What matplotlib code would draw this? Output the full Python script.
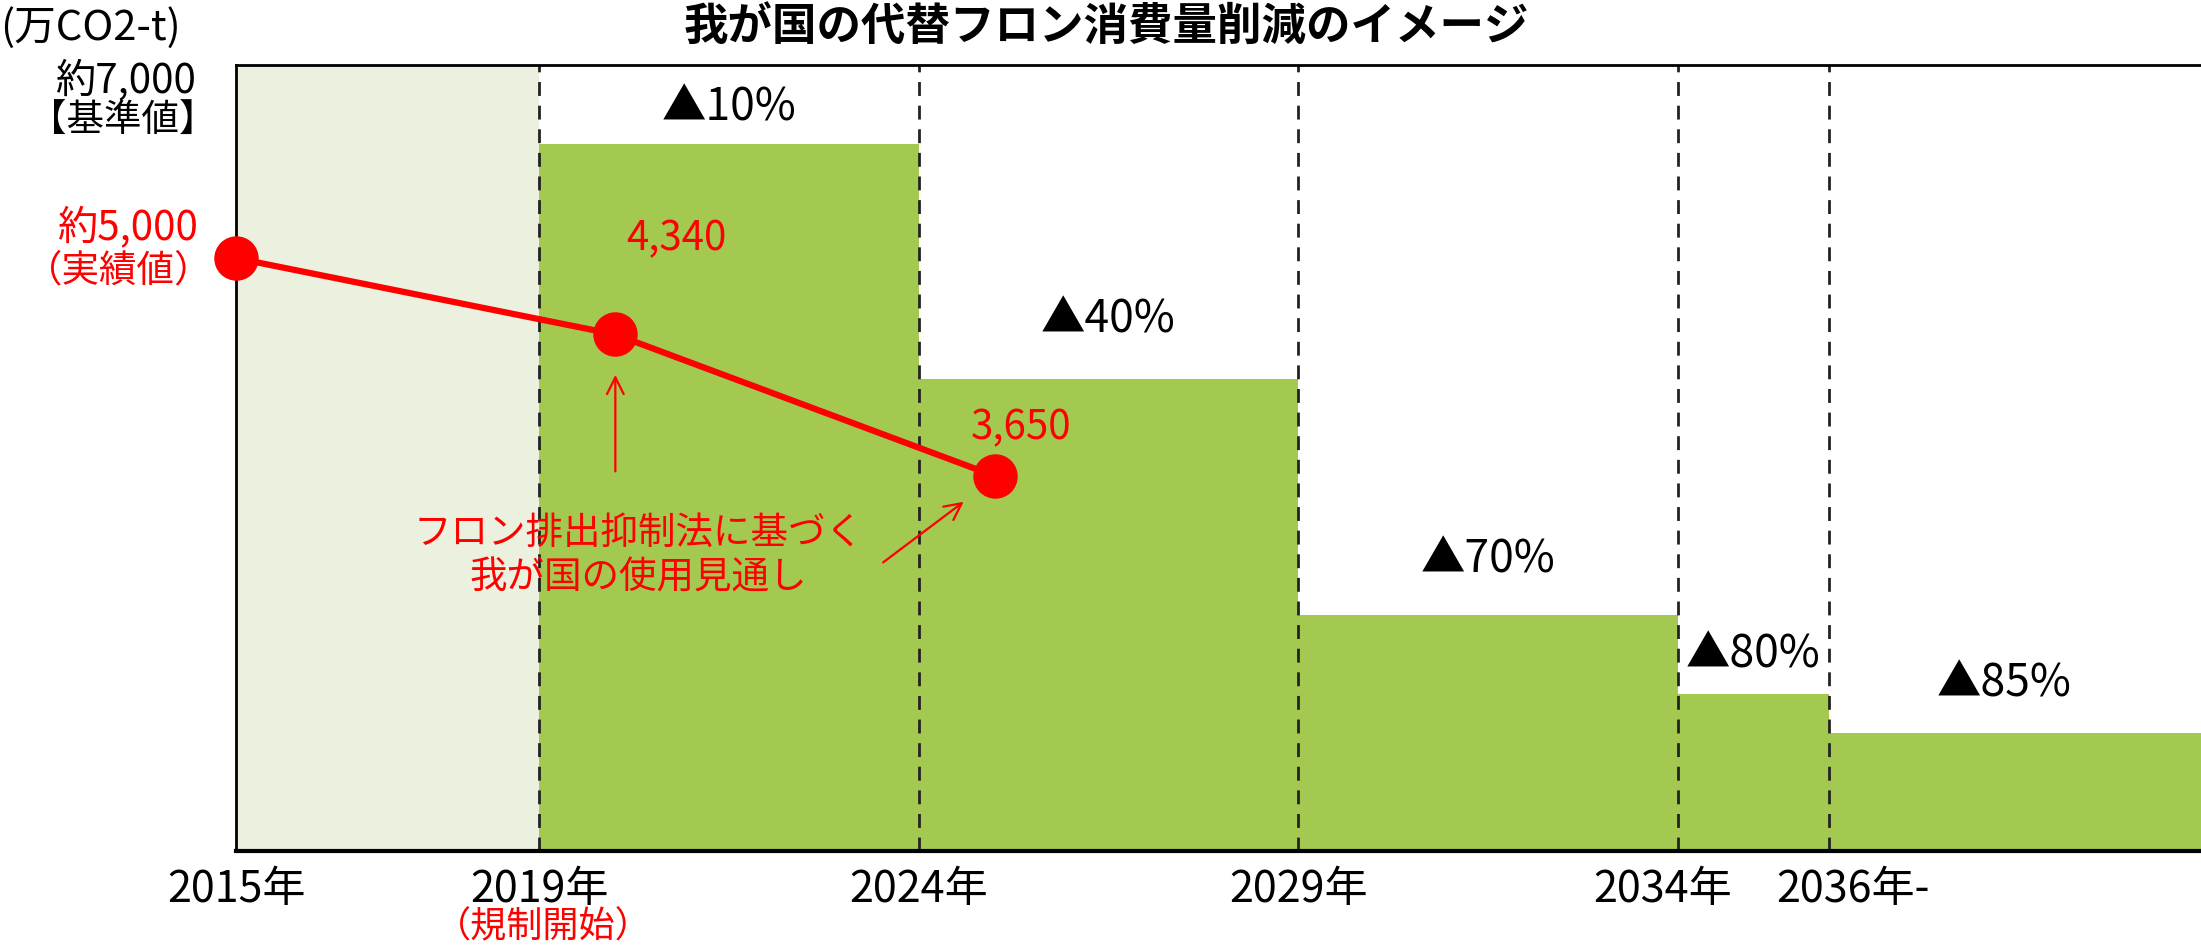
import matplotlib
matplotlib.use('Agg')
import matplotlib.pyplot as plt
import matplotlib.transforms as mtransforms

plt.rcParams['font.family'] = ['Noto Sans CJK JP', 'DejaVu Sans']

# step periods (start year, end year) and reduction from the 7,000 baseline
baseline = 7000
period_start = [2019, 2024, 2029, 2034, 2036]
period_end = [2024, 2029, 2034, 2036, 2041]
reduction_pct = [10, 40, 70, 80, 85]
pct_labels = ['▲10%', '▲40%', '▲70%', '▲80%', '▲85%']
pct_label_x = [2021.5, 2026.5, 2031.5, 2035.0, 2038.3]
pct_label_y = [6620, 4730, 2600, 1750, 1490]

# red line: usage outlook (drawn where the picture puts it)
line_years = [2015, 2020, 2025]
line_pos = [5280, 4600, 3340]
line_labels = ['4,340', '3,650']

tick_years = [2015, 2019, 2024, 2029, 2034, 2036]
tick_labels = ['2015年', '2019年', '2024年', '2029年', '2034年', '2036年-']

green = '#A3C951'
light_green = '#EBF1DE'
red = '#FF0000'

W, H = 2201, 947
fig = plt.figure(figsize=(W / 100, H / 100), dpi=100)
ax = fig.add_axes([236 / W, 1 - 851 / H, 1 - 236 / W, (851 - 65) / H])

# pre-regulation period
ax.axvspan(2015, 2019, color=light_green, zorder=0, lw=0)

heights = [baseline * (100 - p) / 100 for p in reduction_pct]
widths = [e - s for s, e in zip(period_start, period_end)]
ax.bar(period_start, heights, width=widths, align='edge', color=green, lw=0, zorder=1)

for x in period_start:
    ax.axvline(x, color='#222222', ls=(0, (5, 3.5)), lw=2, zorder=2)

for x, y, t in zip(pct_label_x, pct_label_y, pct_labels):
    ax.text(x, y, t, ha='center', va='center', fontsize=32, color='black', zorder=5)

ax.plot(line_years, line_pos, color=red, lw=4.5, marker='o', markersize=31,
        clip_on=False, zorder=4)

ax.text(2020.8, 5450, line_labels[0], ha='center', va='center', fontsize=29, color=red, zorder=5)
ax.text(2025.35, 3770, line_labels[1], ha='center', va='center', fontsize=29, color=red, zorder=5)

# annotation + arrows
ax.text(2020.3, 2630, 'フロン排出抑制法に基づく\n我が国の使用見通し', ha='center', va='center',
        fontsize=27, color=red, linespacing=1.2, zorder=5)
ax.annotate('', xy=(2020, 4265), xytext=(2020, 3356),
            arrowprops=dict(arrowstyle='->', color=red, lw=1.6, mutation_scale=30), zorder=5)
ax.annotate('', xy=(2024.62, 3125), xytext=(2023.5, 2555),
            arrowprops=dict(arrowstyle='->', color=red, lw=1.6, mutation_scale=30), zorder=5)

ax.set_xlim(2015, 2040.9)
ax.set_ylim(0, baseline)
ax.set_yticks([])
ax.set_xticks(tick_years)
ax.set_xticklabels(tick_labels, fontsize=31)
ax.tick_params(axis='x', length=0, pad=12)
# nudge the two crowded labels apart like the original
lbls = ax.get_xticklabels()
lbls[4].set_transform(lbls[4].get_transform() + mtransforms.ScaledTranslation(-0.15, 0, fig.dpi_scale_trans))
lbls[5].set_transform(lbls[5].get_transform() + mtransforms.ScaledTranslation(0.24, 0, fig.dpi_scale_trans))
for s in ['left', 'top']:
    ax.spines[s].set_linewidth(2)
ax.spines['bottom'].set_linewidth(3)
ax.spines['right'].set_visible(False)

# texts around the plot
fig.text(543 / W, 1 - 927 / H, '（規制開始）', ha='center', va='center', fontsize=26, color=red)
fig.text(1106 / W, 1 - 28 / H, '我が国の代替フロン消費量削減のイメージ', ha='center', va='center',
         fontsize=32, fontweight='bold')
fig.text(0, 1 - 28 / H, '(万CO2-t)', ha='left', va='center', fontsize=30)
fig.text(196 / W, 1 - 80 / H, '約7,000', ha='right', va='center', fontsize=29)
fig.text(216 / W, 1 - 121 / H, '【基準値】', ha='right', va='center', fontsize=27)
fig.text(198 / W, 1 - 227 / H, '約5,000', ha='right', va='center', fontsize=29, color=red)
fig.text(212 / W, 1 - 271 / H, '（実績値）', ha='right', va='center', fontsize=27, color=red)

fig.savefig('out.png', dpi=100)
